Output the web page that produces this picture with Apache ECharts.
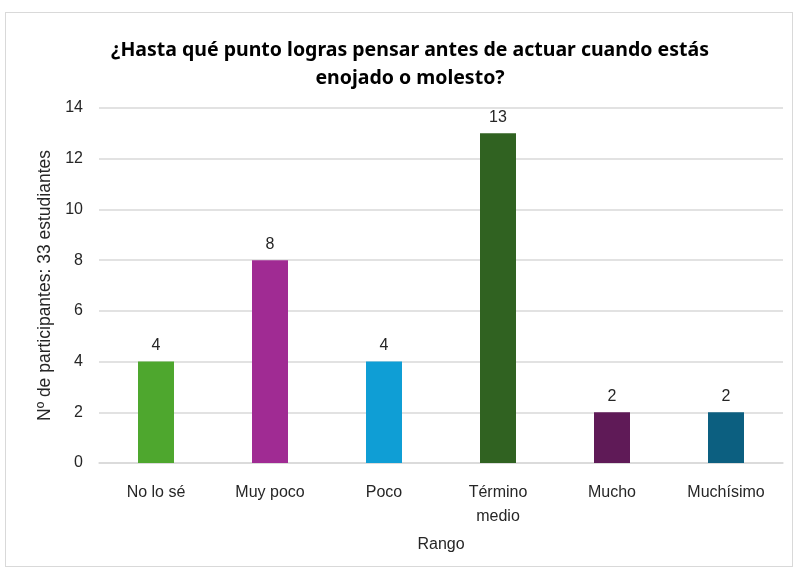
<!DOCTYPE html>
<html>
<head>
<meta charset="utf-8">
<script src="https://cdn.jsdelivr.net/npm/echarts@6/dist/echarts.min.js"></script>
<style>
  html, body { margin: 0; padding: 0; background: #fff; }
  #frame { position: absolute; left: 5px; top: 12px; width: 786px; height: 553px; border: 1px solid #d9d9d9; }
  #chart { position: absolute; left: 0; top: 0; width: 796px; height: 570px; }
</style>
</head>
<body>
<div id="frame"></div>
<div id="chart"></div>
<script>
// datos
var categorias = ['No lo sé', 'Muy poco', 'Poco', 'Término\nmedio', 'Mucho', 'Muchísimo'];
var valores = [4, 8, 4, 13, 2, 2];
var colores = ['#4EA72E', '#A02B93', '#0F9ED5', '#306221', '#5F1A57', '#0C5F80'];

var chart = echarts.init(document.getElementById('chart'));

var option = {
  backgroundColor: 'transparent',
  title: {
    text: '¿Hasta qué punto logras pensar antes de actuar cuando estás\nenojado o molesto?',
    left: 405,
    textAlign: 'center',
    top: 31,
    textStyle: {
      fontFamily: '"Liberation Sans Narrow", "Noto Sans", sans-serif',
      fontWeight: 'bold',
      fontSize: 19.5,
      lineHeight: 28,
      color: '#000'
    }
  },
  grid: { left: 99, right: 13, top: 108, bottom: 107 },
  xAxis: {
    type: 'category',
    data: categorias,
    name: 'Rango',
    nameLocation: 'middle',
    nameGap: 74,
    nameTextStyle: { fontFamily: '"Liberation Sans Narrow", sans-serif', fontSize: 16, color: '#262626' },
    axisLine: { lineStyle: { color: '#d9d9d9', width: 1.5 } },
    axisTick: { show: false },
    axisLabel: {
      margin: 18,
      fontFamily: '"Liberation Sans Narrow", sans-serif',
      fontSize: 16,
      lineHeight: 24,
      color: '#262626'
    }
  },
  yAxis: {
    type: 'value',
    min: 0,
    max: 14,
    interval: 2,
    name: 'Nº de participantes: 33 estudiantes',
    nameLocation: 'middle',
    nameGap: 45,
    nameTextStyle: { fontFamily: '"Liberation Sans", Arial, sans-serif', fontSize: 17.5, color: '#262626' },
    axisLabel: {
      margin: 16,
      fontFamily: '"Liberation Sans", Arial, sans-serif',
      fontSize: 16,
      color: '#262626'
    },
    splitLine: { lineStyle: { color: '#d9d9d9', width: 1.5 } }
  },
  series: [{
    type: 'bar',
    data: valores.map(function (v, i) {
      return { value: v, itemStyle: { color: colores[i] } };
    }),
    barWidth: 36,
    label: {
      show: true,
      position: 'top',
      distance: 8,
      fontFamily: '"Liberation Sans", Arial, sans-serif',
      fontSize: 16,
      color: '#262626'
    }
  }]
};

chart.setOption(option);
</script>
</body>
</html>
